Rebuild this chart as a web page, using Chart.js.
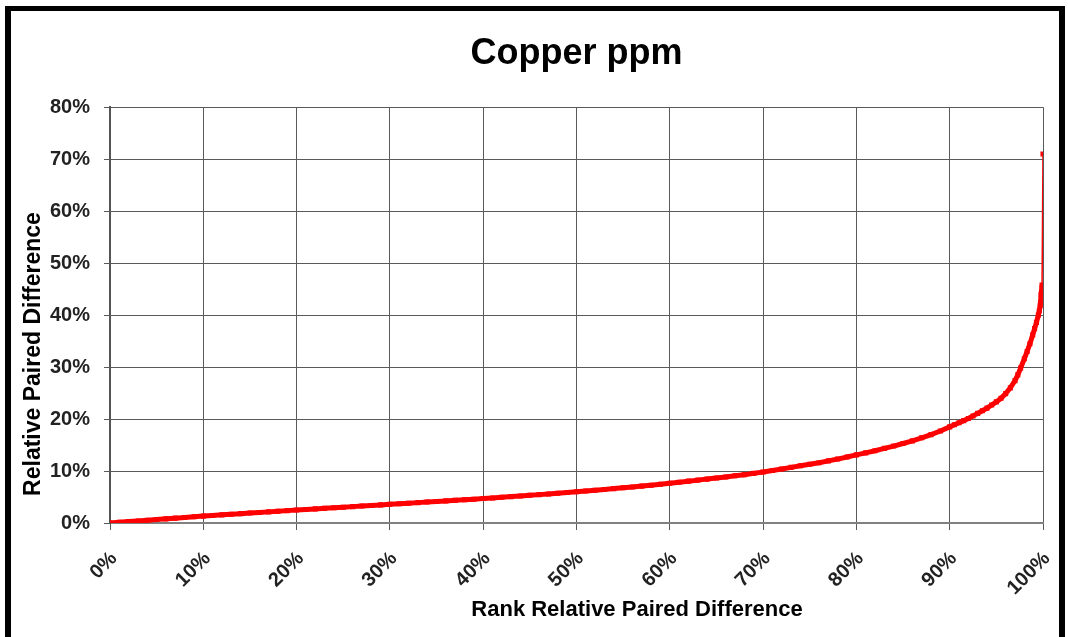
<!DOCTYPE html>
<html>
<head>
<meta charset="utf-8">
<script src="https://cdn.jsdelivr.net/npm/chart.js@4.4.0/dist/chart.umd.min.js"></script>
<style>
    html, body { margin: 0; padding: 0; background: #fff; }
    #wrap { position: relative; width: 1068px; height: 637px; overflow: hidden; }
    #chart { position: absolute; left: 0; top: 0; }
    #frame {
        position: absolute; left: 5px; top: 6px; width: 1048px; height: 640px;
        border-left: 6px solid #000; border-top: 5px solid #000; border-right: 6px solid #000;
        pointer-events: none;
    }
</style>
</head>
<body>
<div id="wrap">
    <canvas id="chart" width="1068" height="637"></canvas>
    <div id="frame"></div>
</div>
<script>
// Copper ppm - ranked relative paired difference
const chartTitle = 'Copper ppm';
const xTitle = 'Rank Relative Paired Difference';
const yTitle = 'Relative Paired Difference';

// rank, in %
const rankPct = [
    0, 1, 2, 3, 4, 5, 6, 7, 8, 9,
    10, 11, 12, 13, 14, 15, 16, 17, 18, 19,
    20, 21, 22, 23, 24, 25, 26, 27, 28, 29,
    30, 31, 32, 33, 34, 35, 36, 37, 38, 39,
    40, 41, 42, 43, 44, 45, 46, 47, 48, 49,
    50, 51, 52, 53, 54, 55, 56, 57, 58, 59,
    60, 61, 62, 63, 64, 65, 66, 67, 68, 69,
    70, 71, 72, 73, 74, 75, 76, 77, 78, 79,
    80, 81, 82, 83, 84, 85, 86, 87, 88, 89,
    90, 90.5, 91, 91.5, 92, 92.5, 93, 93.5, 94, 94.5,
    95, 95.5, 96, 96.5, 97, 97.3, 97.6, 98, 98.3, 98.6,
    98.9, 99.1, 99.3, 99.5, 99.6, 99.7, 99.8, 99.9, 100
];

// relative paired difference, in %
const relDiffPct = [
    0, 0.15, 0.28, 0.4, 0.53, 0.66, 0.8, 0.93, 1.06, 1.2,
    1.33, 1.45, 1.57, 1.68, 1.8, 1.92, 2.03, 2.14, 2.26, 2.38,
    2.5, 2.6, 2.71, 2.82, 2.93, 3.04, 3.15, 3.26, 3.37, 3.48,
    3.6, 3.7, 3.81, 3.92, 4.03, 4.14, 4.25, 4.36, 4.47, 4.58,
    4.7, 4.82, 4.95, 5.08, 5.2, 5.33, 5.46, 5.59, 5.72, 5.86,
    6.0, 6.15, 6.3, 6.46, 6.62, 6.78, 6.94, 7.1, 7.27, 7.45,
    7.65, 7.85, 8.05, 8.25, 8.45, 8.65, 8.86, 9.08, 9.3, 9.55,
    9.8, 10.1, 10.4, 10.7, 11.0, 11.3, 11.6, 11.95, 12.3, 12.7,
    13.1, 13.5, 13.9, 14.35, 14.8, 15.3, 15.8, 16.4, 17.0, 17.7,
    18.5, 18.9, 19.3, 19.7, 20.1, 20.6, 21.1, 21.6, 22.1, 22.7,
    23.3, 24.0, 24.9, 26.0, 27.4, 28.5, 29.8, 31.6, 33.0, 34.5,
    36.2, 37.4, 38.6, 40.0, 40.8, 41.8, 44.0, 45.8, 71.0
];

const xTicks = [0, 10, 20, 30, 40, 50, 60, 70, 80, 90, 100];
const yTicks = [0, 10, 20, 30, 40, 50, 60, 70, 80];

const points = rankPct.map((x, i) => ({ x: x, y: relDiffPct[i] }));
const lastIndex = points.length - 1;

const fontFamily = '"Liberation Sans", Arial, Helvetica, sans-serif';
const gridColor = '#5a5a5a';

// axis titles sit off-centre in the original, so draw them by hand
const axisTitles = {
    id: 'axisTitles',
    afterDraw(chart) {
        const ctx = chart.ctx;
        ctx.save();
        ctx.fillStyle = '#000';
        ctx.textAlign = 'center';
        ctx.textBaseline = 'middle';
        ctx.font = 'bold 22px ' + fontFamily;
        ctx.fillText(xTitle, 637, 610);
        ctx.translate(34, 354);
        ctx.rotate(-Math.PI / 2);
        ctx.font = 'bold 23px ' + fontFamily;
        ctx.fillText(yTitle, 0, 0);
        ctx.restore();
    }
};

new Chart(document.getElementById('chart'), {
    type: 'scatter',
    data: {
        datasets: [{
            label: chartTitle,
            data: points,
            showLine: true,
            borderColor: '#ff0000',
            borderWidth: 5,
            backgroundColor: '#ff0000',
            pointStyle: 'rect',
            pointRadius: 3.6,
            pointBorderWidth: 0,
            tension: 0,
            segment: {
                // the final jump to the maximum is just a thin line
                borderWidth: (ctx) => ctx.p1DataIndex === lastIndex ? 1.5 : 5
            }
        }]
    },
    options: {
        responsive: false,
        animation: false,
        layout: { padding: { left: 0, right: 25, top: 0, bottom: 0 } },
        plugins: {
            legend: { display: false },
            tooltip: { enabled: false },
            title: {
                display: true,
                text: chartTitle,
                fullSize: false,
                color: '#000',
                font: { family: fontFamily, size: 36, weight: 'bold' },
                padding: { top: 32, bottom: 32 }
            }
        },
        scales: {
            x: {
                type: 'linear',
                min: 0,
                max: 100,
                afterBuildTicks: (scale) => { scale.ticks = xTicks.map(v => ({ value: v })); },
                afterFit: (scale) => {
                    scale.height = 114;
                    scale.paddingLeft = 0;
                    scale.paddingRight = 0;
                },
                ticks: {
                    minRotation: 45,
                    maxRotation: 45,
                    padding: 17,
                    labelOffset: 4,
                    color: '#222',
                    font: { family: fontFamily, size: 20, weight: 'bold' },
                    callback: (v) => v + '%'
                },
                grid: { color: gridColor, lineWidth: 1, tickLength: 7, tickColor: gridColor },
                border: { color: '#808080', width: 2 }
            },
            y: {
                type: 'linear',
                min: 0,
                max: 80,
                afterBuildTicks: (scale) => { scale.ticks = yTicks.map(v => ({ value: v })); },
                afterFit: (scale) => {
                    scale.width = 110;
                    scale.paddingTop = 0;
                    scale.paddingBottom = 0;
                },
                ticks: {
                    padding: 14,
                    color: '#222',
                    font: { family: fontFamily, size: 20, weight: 'bold' },
                    callback: (v) => v + '%'
                },
                grid: { color: gridColor, lineWidth: 1, tickLength: 6, tickColor: gridColor },
                border: { color: '#555', width: 2 }
            }
        }
    },
    plugins: [axisTitles]
});
</script>
</body>
</html>
